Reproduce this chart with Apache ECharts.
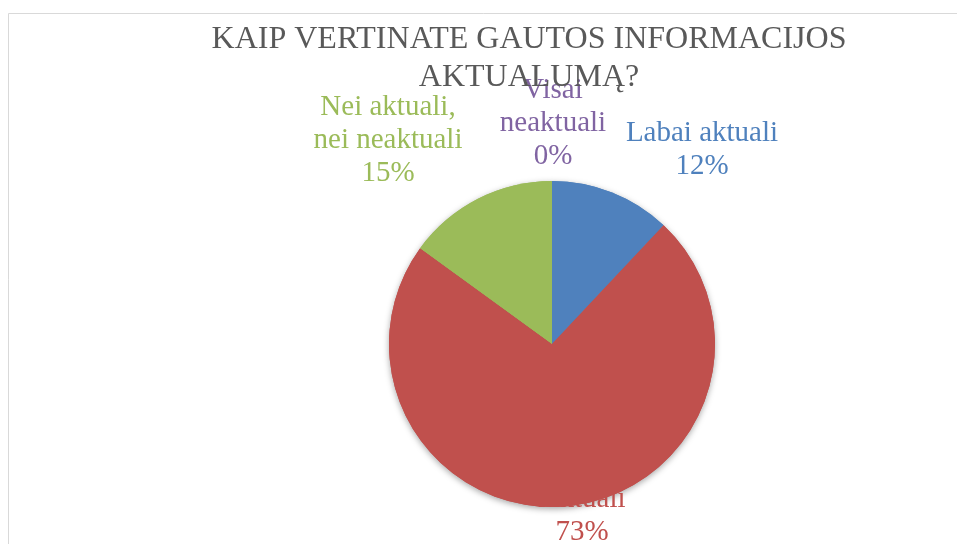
<!DOCTYPE html>
<html lang="lt">
<head>
<meta charset="utf-8">
<title>Kaip vertinate gautos informacijos aktualumą?</title>
<script src="https://cdn.jsdelivr.net/npm/echarts@6/dist/echarts.min.js"></script>
<style>
  html, body { margin: 0; padding: 0; background: #fff; }
  #main { width: 957px; height: 544px; }
</style>
</head>
<body>
<div id="main"></div>
<script type="text/javascript">
// duomenys
var categories = ['Labai aktuali', 'Aktuali', 'Nei aktuali,\nnei neaktuali', 'Visai\nneaktuali'];
var values = [12, 73, 15, 0];
var colors = ['#4F81BD', '#C0504D', '#9BBB59', '#8064A2'];
// label centres (px) as placed in the original chart
var labelPos = [[702, 150], [582, 516], [388, 140], [553, 123]];

var chart = echarts.init(document.getElementById('main'));

var pieData = [];
for (var i = 0; i < categories.length; i++) {
    pieData.push({
        name: categories[i],
        value: values[i],
        itemStyle: { color: colors[i] },
        label: { color: colors[i] }
    });
}

var option = {
    backgroundColor: '#fff',
    animation: false,
    title: {
        text: 'KAIP VERTINATE GAUTOS INFORMACIJOS\nAKTUALUMĄ?',
        left: 524,
        top: 16,
        textAlign: 'center',
        textStyle: {
            fontFamily: 'Liberation Serif',
            fontWeight: 'normal',
            fontSize: 32,
            lineHeight: 38,
            color: '#595959'
        }
    },
    graphic: [{
        type: 'rect',
        shape: { x: 8.5, y: 13.5, width: 1000, height: 600 },
        style: { fill: null, stroke: '#D9D9D9', lineWidth: 1 },
        silent: true
    }],
    series: [{
        // labels + shadow, drawn underneath
        type: 'pie',
        z: 2,
        center: [552, 344],
        radius: 163,
        startAngle: 90,
        clockwise: true,
        data: pieData,
        itemStyle: {
            shadowBlur: 6,
            shadowOffsetY: 2,
            shadowColor: 'rgba(0,0,0,0.35)'
        },
        label: {
            show: true,
            position: 'outside',
            formatter: '{b}\n{d}%',
            fontFamily: 'Liberation Serif',
            fontSize: 29,
            lineHeight: 33,
            align: 'center',
            verticalAlign: 'middle'
        },
        labelLine: { show: false },
        labelLayout: function (params) {
            var p = labelPos[params.dataIndex];
            return { x: p[0], y: p[1], align: 'center', verticalAlign: 'middle' };
        }
    }, {
        // pie on top (covers part of the bottom label like the original)
        type: 'pie',
        z: 3,
        silent: true,
        center: [552, 344],
        radius: 163,
        startAngle: 90,
        clockwise: true,
        data: pieData,
        label: { show: false },
        labelLine: { show: false }
    }]
};

chart.setOption(option);
</script>
</body>
</html>
